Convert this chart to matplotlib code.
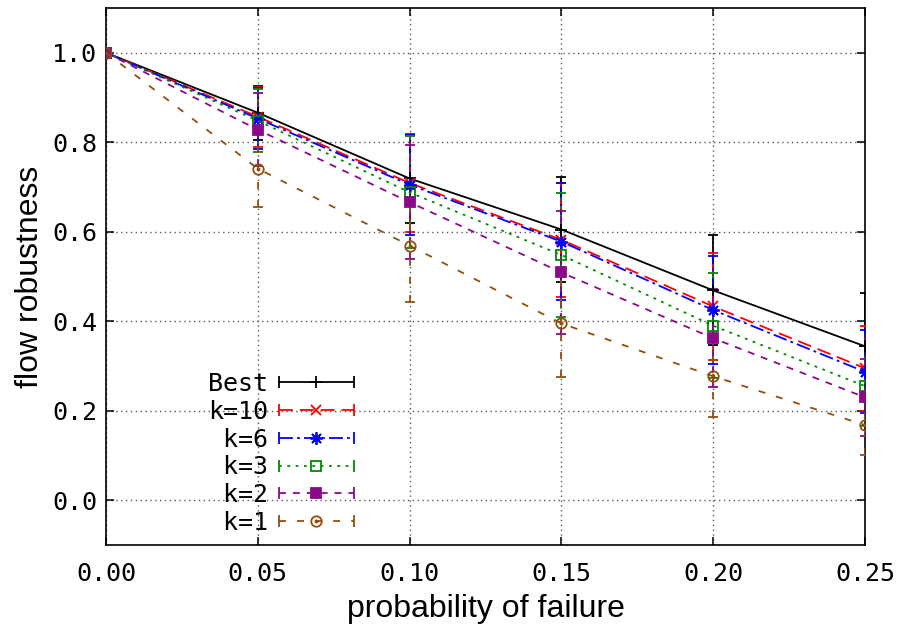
import matplotlib
matplotlib.use("Agg")
import matplotlib.pyplot as plt
from matplotlib.lines import Line2D
from matplotlib.legend_handler import HandlerLine2D, HandlerTuple

# probabilidad de fallo
x = [0.00, 0.05, 0.10, 0.15, 0.20, 0.25]

best = [1.0, 0.866, 0.719, 0.605, 0.469, 0.344]
best_err = [0.0, 0.060, 0.100, 0.117, 0.123, 0.119]

k10 = [1.0, 0.857, 0.709, 0.582, 0.433, 0.295]
k10_err = [0.0, 0.067, 0.110, 0.128, 0.120, 0.095]

k6 = [1.0, 0.853, 0.705, 0.578, 0.425, 0.287]
k6_err = [0.0, 0.068, 0.112, 0.131, 0.120, 0.093]

k3 = [1.0, 0.848, 0.688, 0.548, 0.390, 0.255]
k3_err = [0.0, 0.070, 0.125, 0.138, 0.117, 0.090]

k2 = [1.0, 0.828, 0.666, 0.509, 0.362, 0.230]
k2_err = [0.0, 0.082, 0.128, 0.138, 0.110, 0.086]

k1 = [1.0, 0.741, 0.569, 0.395, 0.277, 0.168]
k1_err = [0.0, 0.086, 0.126, 0.120, 0.090, 0.067]

labels = ["Best", "k=10", " k=6", " k=3", " k=2", " k=1"]
x_ticks = [0.00, 0.05, 0.10, 0.15, 0.20, 0.25]
y_ticks = [0.0, 0.2, 0.4, 0.6, 0.8, 1.0]

plt.rcParams["lines.scale_dashes"] = False

estilos = [
    dict(color="black", dashes=(), marker="+", ms=9, mfc="black"),
    dict(color="#ff0000", dashes=(10, 5), marker="x", ms=7, mfc="#ff0000"),
    dict(color="#0000ff", dashes=(10, 3, 2, 3), marker=(8, 2, 0), ms=9, mfc="#0000ff"),
    dict(color="#008a00", dashes=(2, 4), marker="s", ms=7.5, mfc="none"),
    dict(color="#8a0a8a", dashes=(5, 5), marker="s", ms=7.5, mfc="#8a0a8a"),
    dict(color="#8f4f10", dashes=(5, 8), marker="o", ms=7.5, mfc="none"),
]
series = [(best, best_err), (k10, k10_err), (k6, k6_err),
          (k3, k3_err), (k2, k2_err), (k1, k1_err)]

fig = plt.figure(figsize=(8.97, 6.31), dpi=100)
ax = fig.add_axes([106 / 897, 1 - 545 / 631, 759 / 897, 537 / 631])

handles = []
handler_map = {}
for (y, err), st in zip(series, estilos):
    lw = 1.3
    ls = "-" if not st["dashes"] else (0, st["dashes"])
    line, caps, bars = ax.errorbar(
        x, y, yerr=err, color=st["color"], lw=lw, capsize=3.5, capthick=1.3,
        elinewidth=1.3, marker=st["marker"], ms=st["ms"], mfc=st["mfc"],
        mec=st["color"], mew=1.3, zorder=3)
    line.set_linestyle(ls)
    for b in bars:
        b.set_linestyle(ls)

    # muestra de la leyenda al estilo gnuplot: linea con topes y marcador al medio
    cap = Line2D([], [], color=st["color"], lw=lw, linestyle=ls,
                 marker="|", ms=9, mew=1.3)
    mk = Line2D([], [], color=st["color"], linestyle="none", marker=st["marker"],
                ms=st["ms"], mfc=st["mfc"], mec=st["color"], mew=1.3)
    handler_map[cap] = HandlerLine2D(numpoints=2, marker_pad=0)
    handler_map[mk] = HandlerLine2D(numpoints=1)
    parts = [cap, mk]
    if st["marker"] == "o":
        # punto central del circulo
        ax.plot(x, y, linestyle="none", marker="o", ms=1.8, color=st["color"], zorder=4)
        dot = Line2D([], [], linestyle="none", marker="o", ms=1.8, color=st["color"])
        handler_map[dot] = HandlerLine2D(numpoints=1)
        parts.append(dot)
    handles.append(tuple(parts))

handler_map[tuple] = HandlerTuple(ndivide=1, pad=0)

ax.set_xlim(0, 0.25)
ax.set_ylim(-0.1, 1.1)
ax.set_xticks(x_ticks)
ax.set_yticks(y_ticks)
ax.set_xticklabels([f"{t:.2f}" for t in x_ticks])
ax.set_yticklabels([f"{t:.1f}" for t in y_ticks])
ax.grid(True, color="0.35", linestyle=(0, (1, 2.5)), lw=1.0, zorder=0)
ax.tick_params(direction="in", length=5.5, width=1.1, top=True, right=True,
               labelsize=18, pad=12)
ax.tick_params(axis="y", pad=6.5)
for lab in ax.get_xticklabels() + ax.get_yticklabels():
    lab.set_family("DejaVu Sans Mono")
for sp in ax.spines.values():
    sp.set_linewidth(1.2)

ax.set_xlabel("probability of failure", family="Liberation Sans", fontsize=23, labelpad=6)
ax.set_ylabel("flow robustness", family="Liberation Sans", fontsize=23, labelpad=5)

leg = ax.legend(handles, labels, handler_map=handler_map, loc="lower left",
                bbox_to_anchor=(0.134, 0.019), frameon=False, markerfirst=False,
                prop={"family": "DejaVu Sans Mono", "size": 18},
                handlelength=3.0, handletextpad=0.45, labelspacing=0.15,
                borderpad=0, borderaxespad=0)

fig.savefig("out.png", dpi=100)
